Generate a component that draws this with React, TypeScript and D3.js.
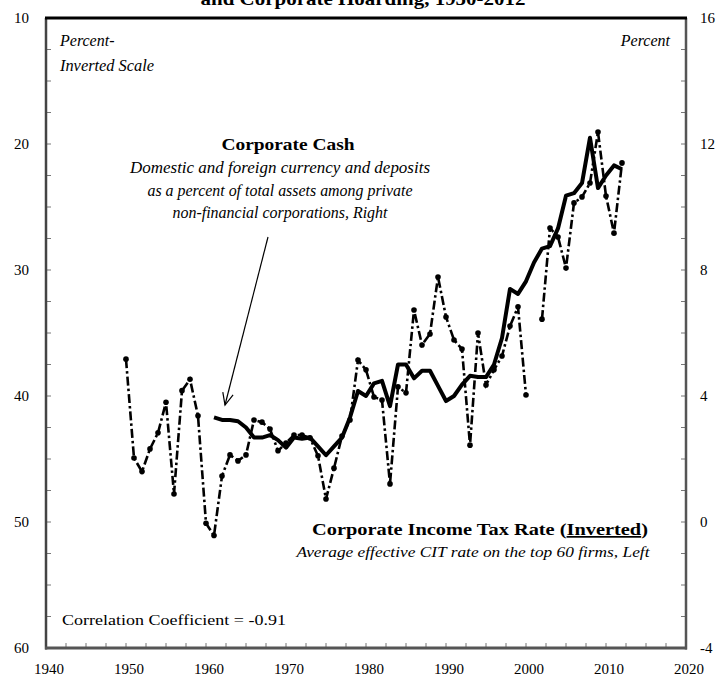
import React from "react";
import * as d3 from "d3";

const cashYears: number[] = d3.range(1950, 2013);
const cashValues: (number | null)[] = [
  5.17, 2.03, 1.6, 2.32, 2.83, 3.8, 0.89, 4.17, 4.53, 3.37,
  -0.04, -0.43, 1.46, 2.13, 1.94, 2.13, 3.24, 3.17, 2.95, 2.26,
  2.51, 2.76, 2.76, 2.67, 2.1, 0.73, 1.71, 2.73, 3.24, 5.14,
  4.83, 3.97, 3.87, 1.21, 4.29, 4.1, 6.73, 5.62, 5.97, 7.78,
  6.51, 5.78, 5.49, 2.44, 6.0, 4.35, 4.83, 5.27, 6.22, 6.83,
  4.03, null, 6.44, 9.33, 9.05, 8.06, 10.13, 10.32, 10.76, 12.38,
  10.35, 9.17, 11.4,
];

const taxYears: number[] = d3.range(1961, 2013);
const taxValues: number[] = [
  41.7, 41.9, 41.9, 42.0, 42.5, 43.3, 43.3, 43.1, 43.5, 44.1,
  43.3, 43.4, 43.3, 44.0, 44.7, 44.0, 43.3, 41.7, 39.6, 40.0,
  39.0, 38.8, 40.8, 37.5, 37.5, 38.6, 38.0, 38.0, 39.2, 40.4,
  40.0, 39.1, 38.4, 38.5, 38.5, 37.5, 35.4, 31.5, 31.9, 30.9,
  29.4, 28.3, 28.1, 26.7, 24.1, 23.9, 23.1, 19.5, 23.5, 22.5,
  21.7, 22.0,
];

const xTicks: number[] = [1940, 1950, 1960, 1970, 1980, 1990, 2000, 2010, 2020];
const leftTicks: number[] = [10, 20, 30, 40, 50, 60];
const rightTicks: number[] = [16, 12, 8, 4, 0, -4];

const FONT = "'Liberation Serif', 'Times New Roman', serif";

export default function App() {
  const W = 717, H = 677;
  const L = 46, R = 686, T = 18, B = 648;
  const x = d3.scaleLinear().domain([1940, 2020]).range([L, R]);
  const yL = d3.scaleLinear().domain([10, 60]).range([T, B]);
  const yR = d3.scaleLinear().domain([16, -4]).range([T, B]);

  const cashData = cashYears.map((yr, i) => ({ yr, v: cashValues[i] }));
  const taxData = taxYears.map((yr, i) => ({ yr, v: taxValues[i] }));

  const cashLine = d3
    .line<{ yr: number; v: number | null }>()
    .defined((d) => d.v !== null)
    .x((d) => x(d.yr))
    .y((d) => yR(d.v as number));
  const taxLine = d3
    .line<{ yr: number; v: number }>()
    .x((d) => x(d.yr))
    .y((d) => yL(d.v));

  const xMinor = d3.range(1942.5, 2020, 2.5);
  const rMinor = d3.range(-3, 16, 1);

  // arrow
  const ax1 = 268, ay1 = 237, ax2 = 225, ay2 = 405;
  const ang = Math.atan2(ay2 - ay1, ax2 - ax1);
  const ah = 13, aw = 0.42;
  const h1 = [ax2 - ah * Math.cos(ang - aw), ay2 - ah * Math.sin(ang - aw)];
  const h2 = [ax2 - ah * Math.cos(ang + aw), ay2 - ah * Math.sin(ang + aw)];

  return (
    <svg
      width={W}
      height={H}
      viewBox={`0 0 ${W} ${H}`}
      style={{ position: "fixed", left: 0, top: 0, background: "#fff" }}
      fontFamily={FONT}
    >
      <rect x={0} y={0} width={W} height={H} fill="#fff" />
      {/* cut-off title */}
      <text x={363} y={5} textAnchor="middle" fontSize={18} fontWeight="bold" textLength={325} lengthAdjust="spacingAndGlyphs">
        and Corporate Hoarding, 1950-2012
      </text>

      {/* minor ticks */}
      {xMinor.map((t) => (
        <line key={"xm" + t} x1={x(t)} x2={x(t)} y1={B} y2={B - 5} stroke="#777" strokeWidth={1} />
      ))}
      {rMinor.map((t) => (
        <g key={"rm" + t}>
          <line x1={R} x2={R - 5} y1={yR(t)} y2={yR(t)} stroke="#777" strokeWidth={1} />
          <line x1={L} x2={L + 5} y1={yR(t)} y2={yR(t)} stroke="#777" strokeWidth={1} />
        </g>
      ))}

      {/* frame */}
      <line x1={L} x2={L} y1={T} y2={B + 1.5} stroke="#444" strokeWidth={2.5} />
      <line x1={R} x2={R} y1={T} y2={B + 1.5} stroke="#555" strokeWidth={2.5} />
      <line x1={L - 1} x2={R + 1} y1={B} y2={B} stroke="#555" strokeWidth={3} />
      <line x1={L - 1} x2={R + 1} y1={T} y2={T} stroke="#000" strokeWidth={3} />

      {/* axis labels */}
      {leftTicks.map((t) => (
        <text key={"l" + t} x={29} y={yL(t) + 5} textAnchor="end" fontSize={15}>
          {t}
        </text>
      ))}
      {rightTicks.map((t) => (
        <text key={"r" + t} x={700} y={yR(t) + 5} textAnchor="start" fontSize={15}>
          {t}
        </text>
      ))}
      {xTicks.map((t) => (
        <text key={"x" + t} x={x(t) + 3} y={674} textAnchor="middle" fontSize={15}>
          {t}
        </text>
      ))}

      {/* series */}
      <path d={cashLine(cashData) || ""} fill="none" stroke="#000" strokeWidth={2.6} strokeDasharray="9,3,2.5,3" />
      {cashData
        .filter((d) => d.v !== null)
        .map((d) => (
          <circle key={"c" + d.yr} cx={x(d.yr)} cy={yR(d.v as number)} r={2.8} fill="#000" />
        ))}
      <path d={taxLine(taxData) || ""} fill="none" stroke="#000" strokeWidth={4} strokeLinejoin="round" />

      {/* annotations */}
      <text x={60} y={46} fontSize={16} fontStyle="italic">Percent-</text>
      <text x={60} y={71} fontSize={16} fontStyle="italic" textLength={94} lengthAdjust="spacingAndGlyphs">Inverted Scale</text>
      <text x={670} y={46} fontSize={16} fontStyle="italic" textAnchor="end">Percent</text>

      <text x={288} y={150} fontSize={17} fontWeight="bold" textAnchor="middle" textLength={133} lengthAdjust="spacingAndGlyphs">Corporate Cash</text>
      <text x={280} y={173} fontSize={16} fontStyle="italic" textAnchor="middle" textLength={300} lengthAdjust="spacingAndGlyphs">Domestic and foreign currency and deposits</text>
      <text x={280} y={196} fontSize={16} fontStyle="italic" textAnchor="middle" textLength={265} lengthAdjust="spacingAndGlyphs">as a percent of total assets among private</text>
      <text x={280} y={218} fontSize={16} fontStyle="italic" textAnchor="middle" textLength={215} lengthAdjust="spacingAndGlyphs">non-financial corporations, Right</text>

      <line x1={ax1} y1={ay1} x2={ax2} y2={ay2} stroke="#000" strokeWidth={1.2} />
      <polyline points={`${h1[0]},${h1[1]} ${ax2},${ay2} ${h2[0]},${h2[1]}`} fill="none" stroke="#000" strokeWidth={1.2} />

      <text x={480} y={535} fontSize={17} fontWeight="bold" textAnchor="middle" textLength={336} lengthAdjust="spacingAndGlyphs">
        Corporate Income Tax Rate (<tspan textDecoration="underline" style={{ textDecoration: "underline" }}>Inverted</tspan>)
      </text>
      <text x={473} y={557} fontSize={15} fontStyle="italic" textAnchor="middle" textLength={353} lengthAdjust="spacingAndGlyphs">
        Average effective  CIT rate on the top 60 firms, Left
      </text>

      <text x={62} y={625} fontSize={15} textLength={224} lengthAdjust="spacingAndGlyphs">Correlation Coefficient = -0.91</text>
    </svg>
  );
}
